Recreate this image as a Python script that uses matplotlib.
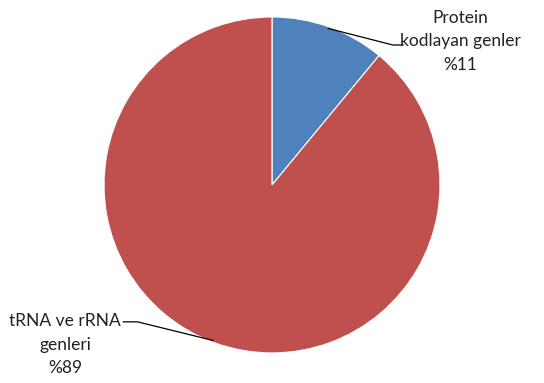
import numpy as np
import matplotlib.pyplot as plt

plt.rcParams['font.family'] = ['Lato', 'DejaVu Sans']

labels = ['Protein\nkodlayan genler\n%11', 'tRNA ve rRNA\ngenleri\n%89']
values = [11, 89]
colors = ['#4F81BD', '#C0504D']

fig = plt.figure(figsize=(5.44, 3.83), dpi=100)
ax = fig.add_axes([0, 0, 1, 1])
ax.pie(values, colors=colors, startangle=90, counterclock=False,
       radius=1.0, center=(0, 0), frame=True,
       wedgeprops=dict(edgecolor='white', linewidth=0.8))
ax.set_xlim(-1.619, 1.619)
ax.set_ylim(-1.179, 1.101)
ax.set_aspect('equal')
ax.axis('off')

# leader line end points on the pie edge (degrees clockwise from top)
def edge(a):
    r = np.radians(a)
    return np.sin(r) * 0.99, np.cos(r) * 0.99

# label positions and elbows
ends = [edge(19.8), edge(200.8)]
elbows = [(0.72, 0.833), (-0.80, -0.815)]
starts = [(0.78, 0.833), (-0.885, -0.815)]
text_pos = [(1.119, 0.855), (-1.232, -0.95)]

for i in range(2):
    ax.plot([ends[i][0], elbows[i][0], starts[i][0]],
            [ends[i][1], elbows[i][1], starts[i][1]],
            color='black', lw=0.9)
    ax.text(text_pos[i][0], text_pos[i][1], labels[i], ha='center', va='center',
            fontsize=12.5, linespacing=1.6, color='#222222')

fig.savefig('out.png', dpi=100)
